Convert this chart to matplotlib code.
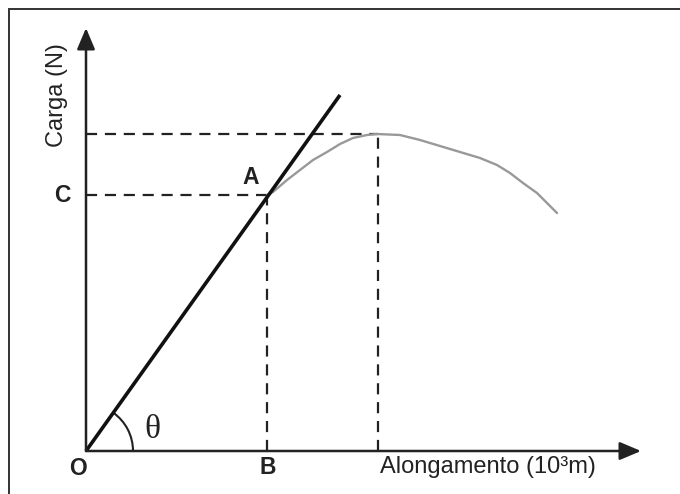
import numpy as np
import matplotlib.pyplot as plt
from matplotlib.patches import Arc, Rectangle

# elastic line (tangent through origin) and load curve after point A
line_x = [0, 254]
line_y = [0, 356]
curve_x = [181, 187, 201, 214, 227, 241, 254, 267, 281, 291, 314, 334,
           354, 374, 394, 411, 424, 437, 451, 461, 471]
curve_y = [256, 259, 271, 281, 291, 299, 307, 313, 316, 317, 316, 311,
           305, 299, 293, 286, 278, 268, 258, 248, 238]
point_a = (181, 256)
peak = (292, 317)
x_end, y_end = 555, 423

fig = plt.figure(figsize=(6.8, 4.94), dpi=100)
ax = fig.add_axes([0, 0, 1, 1])
ax.set_xlim(-86, 594)
ax.set_ylim(-43, 451)
ax.axis('off')

# outer frame, only left and top edges fall inside the picture
fig.add_artist(Rectangle((9/680, -0.5), 2, (494-9)/494 + 0.5, transform=fig.transFigure,
                         fill=False, lw=1.4, edgecolor='#333333'))

# axes with arrows
arrow = dict(arrowstyle='-|>,head_length=1.3,head_width=0.55', lw=1.8, color='#222222',
             shrinkA=0, shrinkB=0)
ax.annotate('', xy=(x_end, 0), xytext=(0, 0), arrowprops=arrow)
ax.annotate('', xy=(0, y_end), xytext=(0, 0), arrowprops=arrow)

# dashed guides
dash = dict(color='#222222', lw=1.6, linestyle=(0, (5, 3.5)))
ax.plot([0, point_a[0]], [point_a[1], point_a[1]], **dash)
ax.plot([point_a[0], point_a[0]], [0, point_a[1]], **dash)
ax.plot([0, peak[0]], [peak[1], peak[1]], **dash)
ax.plot([peak[0], peak[0]], [0, peak[1]], **dash)

ax.plot(curve_x, curve_y, color='#999999', lw=1.7, solid_capstyle='round',
        solid_joinstyle='round')
ax.plot(line_x, line_y, color='#111111', lw=2.6, solid_capstyle='butt')

ang = np.degrees(np.arctan2(line_y[1], line_x[1]))
ax.add_patch(Arc((0, 0), 94, 94, theta1=0, theta2=ang, color='#222222', lw=1.5))

lab = dict(fontsize=16.5, fontweight='bold', family='Liberation Sans', color='#222222',
           ha='center', va='center')
ax.text(-24, 255, 'C', **lab)
ax.text(165, 273, 'A', **lab)
ax.text(-8, -17, 'O', **lab)
ax.text(182, -16, 'B', **lab)
ax.text(66, 21, 'θ', fontsize=24, family='Liberation Serif', color='#222222',
        ha='center', va='center')
ax.text(294, -16, 'Alongamento (10³m)', fontsize=17, family='Liberation Sans',
        color='#222222', ha='left', va='center')
ax.text(-29, 356, 'Carga (N)', fontsize=17, family='Liberation Sans', color='#222222',
        rotation=90, ha='center', va='center')

fig.savefig('out.png', dpi=100)
